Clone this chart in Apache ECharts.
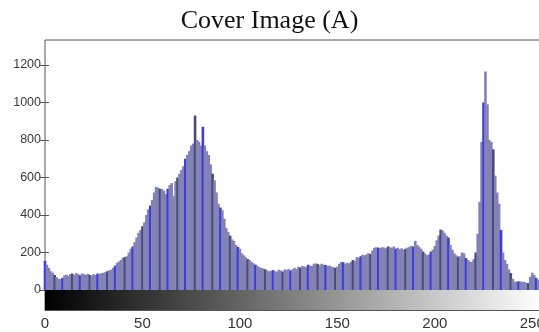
<!DOCTYPE html>
<html>
<head>
<meta charset="utf-8">
<script src="https://cdn.jsdelivr.net/npm/echarts@6/dist/echarts.min.js"></script>
<style>
html,body{margin:0;padding:0;background:#fff;}
#chart{width:539px;height:332px;}
</style>
</head>
<body>
<div id="chart"></div>
<script>
// Histogram counts for gray levels 0..255
const counts = [
155,135,118,100,92,80,68,60,58,65,
78,82,75,85,88,80,90,85,78,88,
85,80,86,80,78,84,80,88,86,90,
92,95,100,105,108,118,130,145,152,160,
172,176,180,200,220,232,255,280,305,320,
340,360,400,430,450,480,520,550,545,540,
538,530,512,540,560,570,500,580,600,620,
640,660,700,720,740,770,780,930,800,790,
770,870,770,740,720,670,620,585,520,460,
440,425,380,330,310,290,270,262,240,230,
220,195,185,175,165,160,150,142,135,128,
122,118,115,110,105,100,102,106,100,98,
108,104,98,110,106,112,104,110,118,112,
124,120,128,125,122,135,130,128,140,142,
138,132,140,135,133,128,130,125,122,118,
125,140,150,148,140,145,142,150,160,155,
175,172,180,188,185,190,196,192,210,225,
228,226,224,228,226,222,232,228,225,232,
220,225,218,222,215,220,226,230,235,232,
262,240,230,220,205,195,185,190,205,215,
235,265,290,322,318,305,290,280,240,215,
196,185,178,180,200,195,170,160,152,150,
165,200,300,470,790,1000,1165,990,800,790,
750,610,520,460,320,200,160,140,110,90,
60,45,44,46,45,44,43,38,37,70,
92,80,65,55,52,50
];
const xTicks = [0, 50, 100, 150, 200, 250];
const xTickLabels = ['0', '50', '100', '150', '200', '250'];
const yTicks = [0, 200, 400, 600, 800, 1000, 1200];
const yTickLabels = ['0', '200', '400', '600', '800', '1000', '1200'];
const titleText = 'Cover Image (A)';
const grayMax = 255;
const yMax = 1333;

const histData = counts.map((c, i) => [i, c]);

const chart = echarts.init(document.getElementById('chart'), null, {renderer: 'canvas'});
const axisColor = '#555';
chart.setOption({
  animation: false,
  backgroundColor: '#fff',
  title: {
    text: titleText,
    left: 'center',
    top: 3,
    textStyle: {fontFamily: 'Liberation Serif', fontSize: 26, fontWeight: 'normal', color: '#111'}
  },
  grid: [
    {left: 45, right: -3, top: 40, bottom: 42, show: true, borderColor: axisColor, borderWidth: 1,
     backgroundColor: 'transparent', outerBoundsMode: 'none', containLabel: false},
    {left: 45, right: -3, top: 290, height: 20, show: true, borderColor: axisColor, borderWidth: 1,
     backgroundColor: 'transparent', outerBoundsMode: 'none', containLabel: false}
  ],
  xAxis: [
    {gridIndex: 0, type: 'value', min: 0, max: grayMax, position: 'bottom',
     axisLine: {show: false}, axisTick: {show: false}, axisLabel: {show: false}, splitLine: {show: false}},
    {gridIndex: 0, type: 'value', min: 0, max: grayMax, position: 'top',
     axisLine: {show: false}, axisTick: {show: true, inside: true, length: 5, lineStyle: {color: axisColor}, customValues: xTicks},
     axisLabel: {show: false}, splitLine: {show: false}},
    {gridIndex: 1, type: 'value', min: 0, max: grayMax, position: 'bottom',
     axisLine: {show: true, lineStyle: {color: axisColor}},
     axisTick: {show: true, inside: true, length: 6, lineStyle: {color: '#333'}, customValues: xTicks},
     axisLabel: {show: true, customValues: xTicks, formatter: v => xTickLabels[xTicks.indexOf(v)],
       fontFamily: 'Liberation Sans Narrow, Liberation Sans', fontSize: 15, color: '#333', margin: 6},
     splitLine: {show: false}},
    {gridIndex: 1, type: 'value', min: 0, max: grayMax, position: 'top',
     axisLine: {show: false}, axisTick: {show: true, inside: true, length: 4, lineStyle: {color: '#333'}, customValues: xTicks},
     axisLabel: {show: false}, splitLine: {show: false}}
  ],
  yAxis: [
    {gridIndex: 0, type: 'value', min: 0, max: yMax, position: 'left',
     axisLine: {show: false},
     axisTick: {show: true, inside: true, length: 4, lineStyle: {color: axisColor}, customValues: yTicks},
     axisLabel: {show: true, customValues: yTicks, formatter: v => yTickLabels[yTicks.indexOf(v)],
       fontFamily: 'Liberation Sans', fontSize: 12.5, color: '#3a3a3a', margin: 4},
     splitLine: {show: false}},
    {gridIndex: 0, type: 'value', min: 0, max: yMax, position: 'right',
     axisLine: {show: false},
     axisTick: {show: true, inside: true, length: 5, lineStyle: {color: axisColor}, customValues: yTicks},
     axisLabel: {show: false}, splitLine: {show: false}},
    {gridIndex: 1, type: 'category', data: ['gray'], show: false}
  ],
  series: [
    {
      type: 'bar', xAxisIndex: 0, yAxisIndex: 0, data: histData, barWidth: 2.6,
      itemStyle: {
        color: p => {
          const k = p.dataIndex % 9;
          if (k === 0) return '#3c3cd6';
          if (k === 5) return '#4a4a78';
          return '#8282b6';
        }
      }
    },
    {
      type: 'bar', xAxisIndex: 2, yAxisIndex: 2, data: [grayMax], barWidth: '100%',
      itemStyle: {
        color: new echarts.graphic.LinearGradient(0, 0, 1, 0, [
          {offset: 0, color: '#000'}, {offset: 1, color: '#fff'}
        ])
      }
    }
  ]
});
</script>
</body>
</html>
